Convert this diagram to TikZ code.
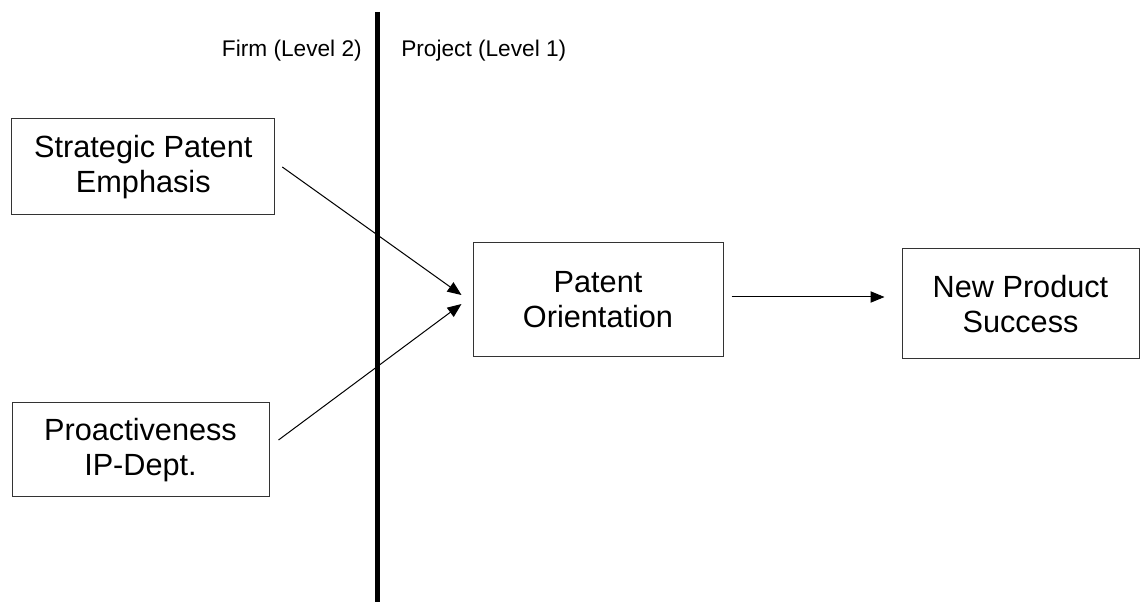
\documentclass[tikz,border=0pt]{standalone}
\usepackage{fontspec}
\setmainfont{Liberation Sans}
\usetikzlibrary{arrows.meta,calc}
\begin{document}
\begin{tikzpicture}[x=0.75pt,y=-0.75pt,
  box/.style={draw=black!80,line width=0.75pt,inner sep=0pt,align=center,
    font=\fontsize{23}{26.3}\selectfont},
  lvl/.style={inner sep=0pt,font=\fontsize{17}{20}\selectfont},
  arr/.style={line width=0.75pt,-{Triangle[length=10.5pt,width=8.5pt]}},
  divider/.style={line width=3.75pt}]
\useasboundingbox (0,0) rectangle (1140,602);
\node[box,minimum width=197.25pt,minimum height=72pt] (spe) at (143.3,167) {Strategic Patent\\Emphasis};
\node[box,minimum width=192.75pt,minimum height=70.5pt] (pro) at (140.5,450) {Proactiveness\\IP-Dept.};
\node[box,minimum width=187.5pt,minimum height=85.5pt] (po) at (598,300) {Patent\\Orientation};
\node[box,minimum width=177.75pt,minimum height=82.5pt] (nps) at (1020.5,304) {New Product\\Success};
\coordinate (vtop) at (377.5,12);
\coordinate (vbot) at (377.5,602);
\draw[divider] (vtop) -- (vbot);
\node[lvl,anchor=base east] (firm) at (362,57) {Firm (Level 2)};
\node[lvl,anchor=base west] (proj) at (401,57) {Project (Level 1)};
\draw[arr] ($(spe.east)+(7,0)$) -- ($(po.west)+(-11,-5)$);
\draw[arr] ($(pro.east)+(9,-10)$) -- ($(po.west)+(-11,4)$);
\draw[arr] ($(po.east)+(8,-3)$) -- ($(nps.west)+(-17,-7)$);
\end{tikzpicture}
\end{document}
